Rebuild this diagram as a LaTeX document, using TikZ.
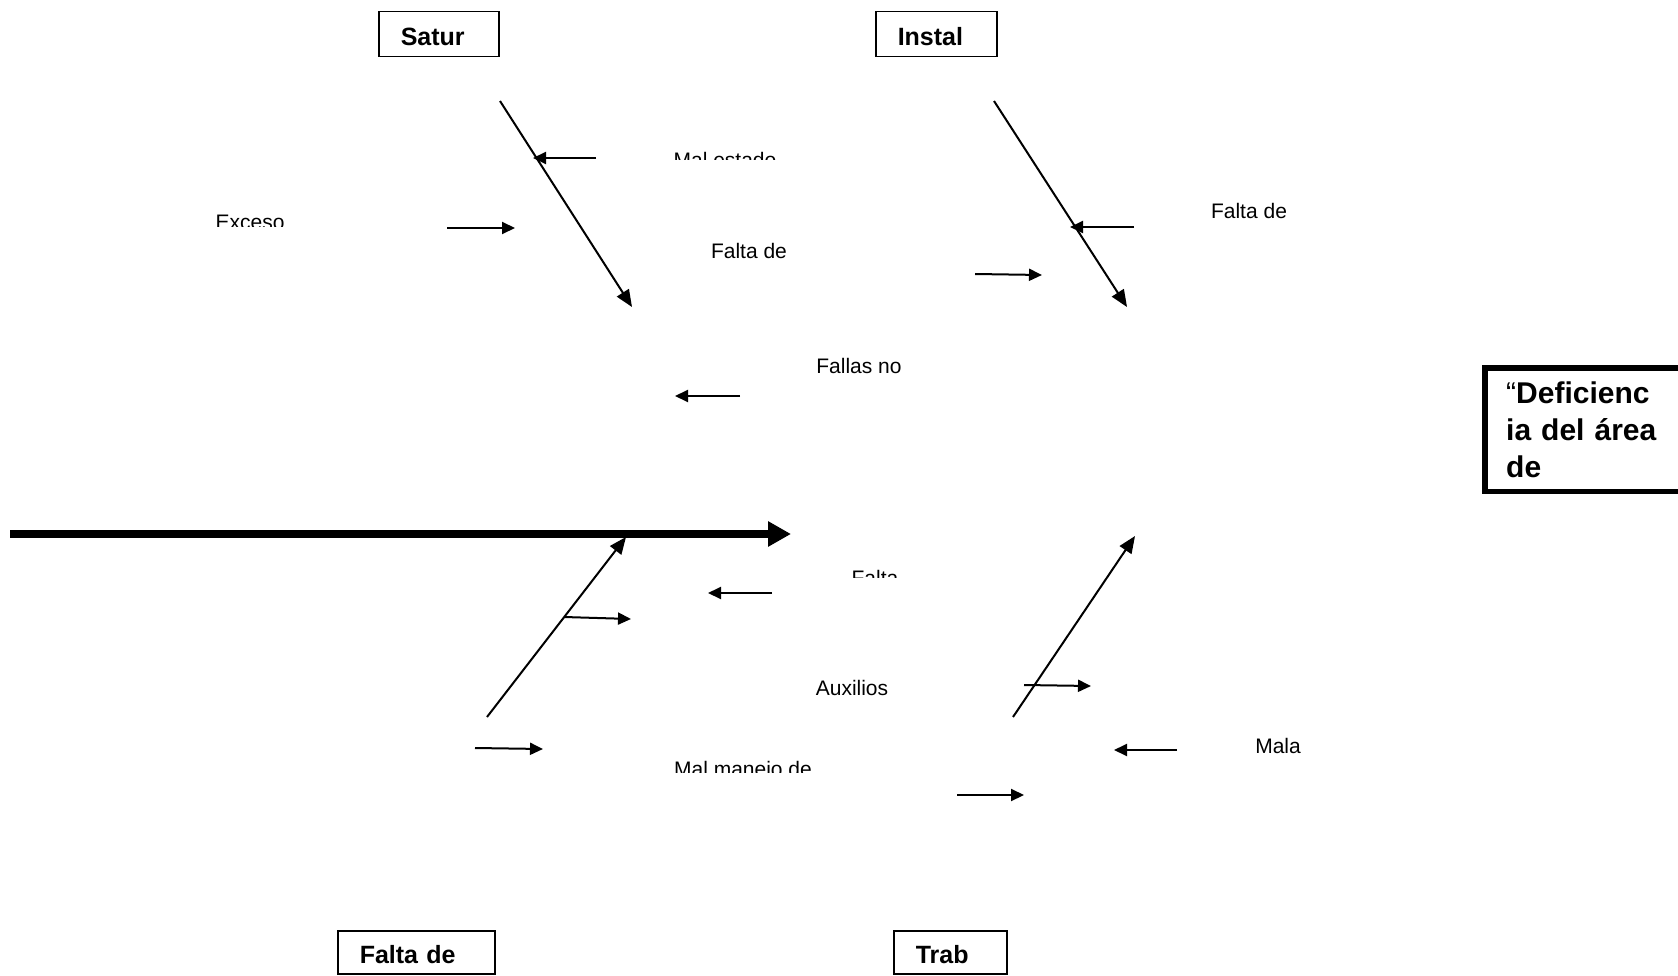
\documentclass[tikz,border=0pt]{standalone}
\usepackage{fontspec}
\setmainfont{Liberation Sans}
\usetikzlibrary{arrows.meta}

\begin{document}
\begin{tikzpicture}[x=1pt,y=-1pt,
        cat box/.style={draw, line width=1.5pt, anchor=north west, align=left,
            inner xsep=22pt, minimum height=45pt, text height=23pt, text depth=0pt,
            font=\fontsize{25}{30}\selectfont\bfseries},
        cause/.style={font=\fontsize{21}{25}\selectfont, inner sep=0pt},
        bone/.style={line width=2pt, -{Triangle[length=17pt,width=14pt]}},
        sub/.style={line width=2pt, -{Triangle[length=13pt,width=12pt]}}]

    \clip (0,0) rectangle (1678,976);
    \fill[white] (0,0) rectangle (1678,976);

    % category boxes
    \node[cat box, text width=76pt] (satur) at (378,11) {Satur};
    \node[cat box, text width=77pt] (instal) at (875,11) {Instal};
    \node[cat box, text width=113pt, minimum height=43pt] (falta) at (337,930) {Falta de};
    \node[cat box, text width=69pt, minimum height=43pt] (trab) at (893,930) {Trab};

    % effect (box runs off the right edge)
    \coordinate (edge) at (1678,0);
    \node[anchor=north west, align=left, text width=160pt, inner xsep=21pt,
        minimum height=123pt, font=\fontsize{30}{37}\selectfont\bfseries]
        (efecto) at (1485,368) {{\mdseries “}Deficienc\\ia del área\\de};
    \draw[line width=5.5pt, line join=miter]
        (efecto.north west -| edge) -- (efecto.north west) -- (efecto.south west) -- (efecto.south west -| edge);

    % spine
    \coordinate (spine a) at (10,534);
    \coordinate (spine b) at (791,534);
    \draw[line width=8pt, -{Triangle[length=23pt,width=24pt]}] (spine a) -- (spine b);

    % main bones
    \coordinate (sat a) at (500,101);  \coordinate (sat b) at (632,307);
    \coordinate (ins a) at (994,101);  \coordinate (ins b) at (1127,307);
    \coordinate (fal a) at (487,717);  \coordinate (fal b) at (626,537);
    \coordinate (tra a) at (1013,717); \coordinate (tra b) at (1135,536);
    \draw[bone] (sat a) -- (sat b);
    \draw[bone] (ins a) -- (ins b);
    \draw[bone] (fal a) -- (fal b);
    \draw[bone] (tra a) -- (tra b);

    % causes
    \begin{scope}
        \clip (600,100) rectangle (860,160);
        \node[cause, anchor=base] (mal estado) at (725,168) {Mal estado};
    \end{scope}
    \begin{scope}
        \clip (150,190) rectangle (350,227);
        \node[cause, anchor=base] (exceso) at (250,230) {Exceso};
    \end{scope}
    \node[cause] (falta a) at (749,251) {Falta de};
    \node[cause] (falta b) at (1249,211) {Falta de};
    \node[cause] (fallas) at (859,366) {Fallas no};
    \begin{scope}
        \clip (800,550) rectangle (960,577);
        \node[cause, anchor=base] (falta c) at (875,585) {Falta};
    \end{scope}
    \node[cause] (auxilios) at (852,688) {Auxilios};
    \node[cause] (mala) at (1278,746) {Mala};
    \begin{scope}
        \clip (600,740) rectangle (900,772);
        \node[cause, anchor=base] (manejo) at (743,776) {Mal manejo de};
    \end{scope}

    % sub-cause arrows
    \coordinate (s1a) at (596,158);  \coordinate (s1b) at (533,158);
    \coordinate (s2a) at (447,228);  \coordinate (s2b) at (515,228);
    \coordinate (s3a) at (975,274);  \coordinate (s3b) at (1042,275);
    \coordinate (s4a) at (1134,227); \coordinate (s4b) at (1070,227);
    \coordinate (s5a) at (740,396);  \coordinate (s5b) at (675,396);
    \coordinate (s6a) at (772,593);  \coordinate (s6b) at (708,593);
    \coordinate (s7a) at (564,617);  \coordinate (s7b) at (631,619);
    \coordinate (s8a) at (1024,685); \coordinate (s8b) at (1091,686);
    \coordinate (s9a) at (1177,750); \coordinate (s9b) at (1114,750);
    \coordinate (s10a) at (475,748); \coordinate (s10b) at (543,749);
    \coordinate (s11a) at (957,795); \coordinate (s11b) at (1024,795);
    \draw[sub] (s1a) -- (s1b);
    \draw[sub] (s2a) -- (s2b);
    \draw[sub] (s3a) -- (s3b);
    \draw[sub] (s4a) -- (s4b);
    \draw[sub] (s5a) -- (s5b);
    \draw[sub] (s6a) -- (s6b);
    \draw[sub] (s7a) -- (s7b);
    \draw[sub] (s8a) -- (s8b);
    \draw[sub] (s9a) -- (s9b);
    \draw[sub] (s10a) -- (s10b);
    \draw[sub] (s11a) -- (s11b);

\end{tikzpicture}
\end{document}
